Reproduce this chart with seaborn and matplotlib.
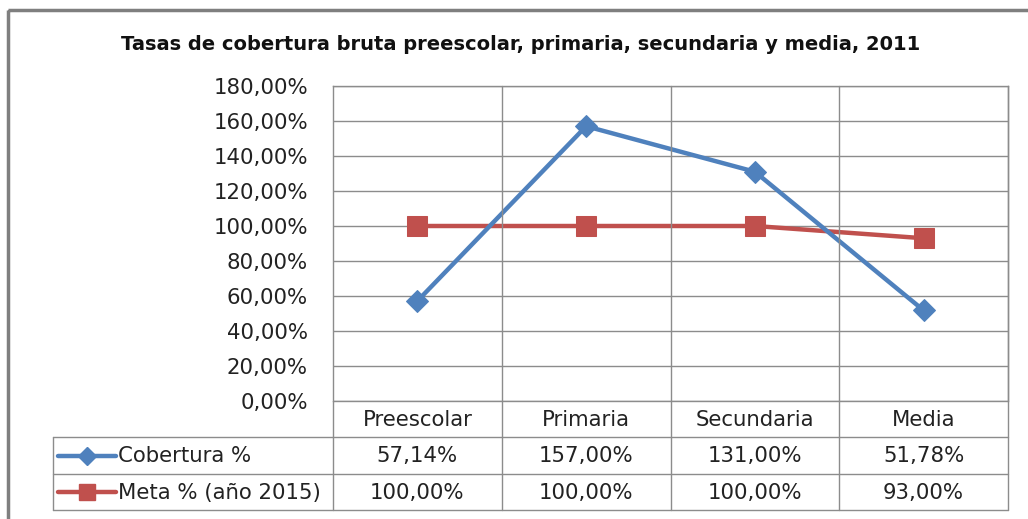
import pandas as pd
import matplotlib.pyplot as plt
import seaborn as sns
from matplotlib.lines import Line2D
from matplotlib.patches import Rectangle
from matplotlib.ticker import FuncFormatter, MultipleLocator

# data
niveles = ['Preescolar', 'Primaria', 'Secundaria', 'Media']
cobertura = [57.14, 157.00, 131.00, 51.78]
meta = [100.00, 100.00, 100.00, 93.00]
series = ['Cobertura %', 'Meta % (año 2015)']
titulo = 'Tasas de cobertura bruta preescolar, primaria, secundaria y media, 2011'

azul = '#4F81BD'
rojo = '#C0504D'
gris = '#8C8C8C'
texto = '#222222'

def pct(v):
    return f'{v:.2f}%'.replace('.', ',')

sns.set_theme(style='white')
plt.rcParams['font.family'] = ['DejaVu Sans']

W, H = 1028, 519
fig = plt.figure(figsize=(W / 100, H / 100), dpi=100)

def fx(px):
    return px / W

def fy(py):
    return 1 - py / H

# plot area
x0, x1, y0, y1 = 333, 1008, 86, 401
ax = fig.add_axes([fx(x0), fy(y1), fx(x1 - x0), fy(y0) - fy(y1)])

df = pd.DataFrame({'pos': range(len(niveles)), 'cob': cobertura, 'meta': meta})
sns.lineplot(data=df, x='pos', y='cob', ax=ax, color=azul, lw=3.2,
             marker='D', markersize=11, markeredgecolor=azul, zorder=4)
sns.lineplot(data=df, x='pos', y='meta', ax=ax, color=rojo, lw=3.2,
             marker='s', markersize=15, markeredgecolor=rojo, zorder=3)

ax.set_xlim(-0.5, len(niveles) - 0.5)
ax.set_ylim(0, 180)
ax.yaxis.set_major_locator(MultipleLocator(20))
ax.yaxis.set_major_formatter(FuncFormatter(lambda v, p: pct(v)))
ax.set_xticks([])
ax.set_xlabel('')
ax.set_ylabel('')
ax.tick_params(axis='y', labelsize=15.3, pad=18, colors=texto, length=0)
ax.grid(True, axis='y', color=gris, lw=1)
for s in ax.spines.values():
    s.set_color(gris)
    s.set_linewidth(1)
ax.spines['bottom'].set_visible(False)

# overlay for table and frame, in pixel coordinates
ov = fig.add_axes([0, 0, 1, 1], zorder=5)
ov.set_xlim(0, W)
ov.set_ylim(H, 0)
ov.axis('off')
ov.patch.set_alpha(0)

ov.add_patch(Rectangle((8, 10), 1200, 700, fill=False, ec='#7F7F7F', lw=2.5))
ov.text(521, 45, titulo, ha='center', va='center', fontsize=14,
        fontweight='bold', color='#111111')

col_x = [x0 + (x1 - x0) * i / len(niveles) for i in range(len(niveles) + 1)]
row_y = [401, 437, 474, 510]
tx0 = 53
for xv in col_x[1:]:
    ov.add_line(Line2D([xv, xv], [y0, row_y[-1]], color=gris, lw=1))
ov.add_line(Line2D([x0, x0], [y1, row_y[-1]], color=gris, lw=1))
ov.add_line(Line2D([x0, x1], [row_y[0], row_y[0]], color=gris, lw=1))
for yv in row_y[1:]:
    ov.add_line(Line2D([tx0, x1], [yv, yv], color=gris, lw=1))
ov.add_line(Line2D([tx0, tx0], [row_y[1], row_y[-1]], color=gris, lw=1))

for i, nivel in enumerate(niveles):
    cx = (col_x[i] + col_x[i + 1]) / 2
    ov.text(cx, (row_y[0] + row_y[1]) / 2 + 1, nivel, ha='center', va='center',
            fontsize=15.3, color=texto)
    ov.text(cx, (row_y[1] + row_y[2]) / 2 + 1, pct(cobertura[i]), ha='center',
            va='center', fontsize=15.3, color=texto)
    ov.text(cx, (row_y[2] + row_y[3]) / 2 + 1, pct(meta[i]), ha='center',
            va='center', fontsize=15.3, color=texto)

for j, (nombre, col, mk, ms) in enumerate(zip(series, [azul, rojo], ['D', 's'], [9, 12])):
    yc = (row_y[j + 1] + row_y[j + 2]) / 2
    ov.add_line(Line2D([58, 116], [yc, yc], color=col, lw=3.2))
    ov.plot([87], [yc], marker=mk, color=col, markersize=ms, markeredgecolor=col)
    ov.text(118, yc + 1, nombre, ha='left', va='center', fontsize=15.3, color=texto)

fig.savefig('out.png', dpi=100)
